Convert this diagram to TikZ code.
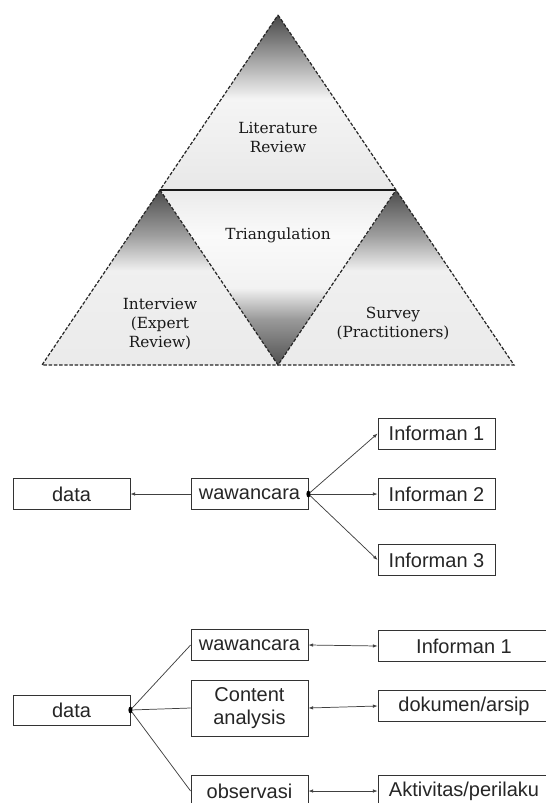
\documentclass[tikz,border=0pt]{standalone}
\usepackage{fontspec}
\setmainfont{Liberation Sans}
\newfontfamily\slabfont{DejaVu Serif}
\usetikzlibrary{arrows.meta}

\pgfdeclareverticalshading{topshade}{100bp}{color(0bp)=(black!9); color(25bp)=(black!9); color(51bp)=(black!4); color(62bp)=(black!35); color(75bp)=(black!72); color(100bp)=(black!72)}
\pgfdeclareverticalshading{sideshade}{100bp}{color(0bp)=(black!8); color(25bp)=(black!8); color(52bp)=(black!6); color(62bp)=(black!38); color(75bp)=(black!70); color(100bp)=(black!70)}
\pgfdeclareverticalshading{midshade}{100bp}{color(0bp)=(black!68); color(25bp)=(black!68); color(38bp)=(black!40); color(47bp)=(black!5); color(62bp)=(black!2); color(75bp)=(black!8); color(100bp)=(black!8)}

\tikzset{
  tridash/.style={line width=0.9pt, dash pattern=on 2.6pt off 1.3pt, draw=black!85},
  tritext/.style={font=\slabfont\fontsize{11.5}{14.25}\selectfont, align=center, text=black!90},
  box/.style={draw=black!80, line width=0.6pt, font=\fontsize{15}{17.5}\selectfont, minimum width=87.75pt, minimum height=23.25pt, inner sep=1pt, align=center, text=black!85},
  widebox/.style={box, minimum width=129pt},
  conn/.style={draw=black!75, line width=0.55pt},
  arr/.style={conn, -{Latex[length=3.5pt,width=2.6pt]}},
  darr/.style={conn, {Latex[length=3.5pt,width=2.6pt]}-{Latex[length=3.5pt,width=2.6pt]}},
  dot/.style={fill=black}
}

\begin{document}
\begin{tikzpicture}[x=0.75pt,y=-0.75pt]
\useasboundingbox (0,0) rectangle (546,803);
\fill[white] (0,0) rectangle (546,803);
\clip (0,0) rectangle (546,803);

% ---------- triangle ----------
\coordinate (A) at (278,15);
\coordinate (L) at (160,190);
\coordinate (R) at (396,190);
\coordinate (BL) at (42,365);
\coordinate (BM) at (278,365);
\coordinate (BR) at (514,365);

\shade[shading=topshade] (A) -- (R) -- (L) -- cycle;
\shade[shading=sideshade] (L) -- (BM) -- (BL) -- cycle;
\shade[shading=sideshade] (R) -- (BR) -- (BM) -- cycle;
\shade[shading=midshade] (L) -- (R) -- (BM) -- cycle;

\draw[tridash] (A) -- (BR) -- (BL) -- cycle;
\draw[tridash] (L) -- (BM) -- (R);
\draw[line width=1pt, black!90] (L) -- (R);

\node[tritext] (lit) at (278,137.5) {Literature\\Review};
\node[tritext] (tri) at (278,235) {Triangulation};
\node[tritext] (int) at (160,324) {Interview\\(Expert\\Review)};
\node[tritext] (sur) at (393,323) {Survey\\(Practitioners)};

% ---------- diagram 2 ----------
\node[box] (data2) at (71.5,494) {data};
\node[box] (waw2) at (249.5,494) {wawancara};
\node[box] (inf1) at (436.5,433.5) {Informan 1};
\node[box] (inf2) at (436.5,494) {Informan 2};
\node[box] (inf3) at (436.5,560) {Informan 3};

\draw[arr] (waw2.west) -- (data2.east);
\coordinate (d2) at (waw2.east);
\draw[arr] (d2) -- (inf1.west);
\draw[arr] (d2) -- (inf2.west);
\draw[arr] (d2) -- (inf3.west);
\fill[dot] (d2) ellipse [x radius=1.5pt, y radius=2.6pt];

% ---------- diagram 3 ----------
\node[box, minimum height=22.5pt] (data3) at (71.5,710) {data};
\node[box] (waw3) at (249.5,645) {wawancara};
\node[box, minimum height=42pt] (ca3) at (249.5,708) {Content\\analysis};
\node[box] (obs3) at (249.5,791) {observasi};
\node[widebox] (infb) at (464,646) {Informan 1};
\node[widebox] (dok) at (464,706) {dokumen/arsip};
\node[widebox] (akt) at (464,791) {Aktivitas/perilaku};

\coordinate (d3) at (data3.east);
\draw[conn] (d3) -- (waw3.west);
\draw[conn] (d3) -- (ca3.west);
\draw[conn] (d3) -- (obs3.west);
\fill[dot] (d3) ellipse [x radius=1.5pt, y radius=2.6pt];

\draw[darr] (waw3.east) -- (infb.west);
\draw[darr] (ca3.east) -- (dok.west);
\draw[darr] (obs3.east) -- (akt.west);
\end{tikzpicture}
\end{document}
